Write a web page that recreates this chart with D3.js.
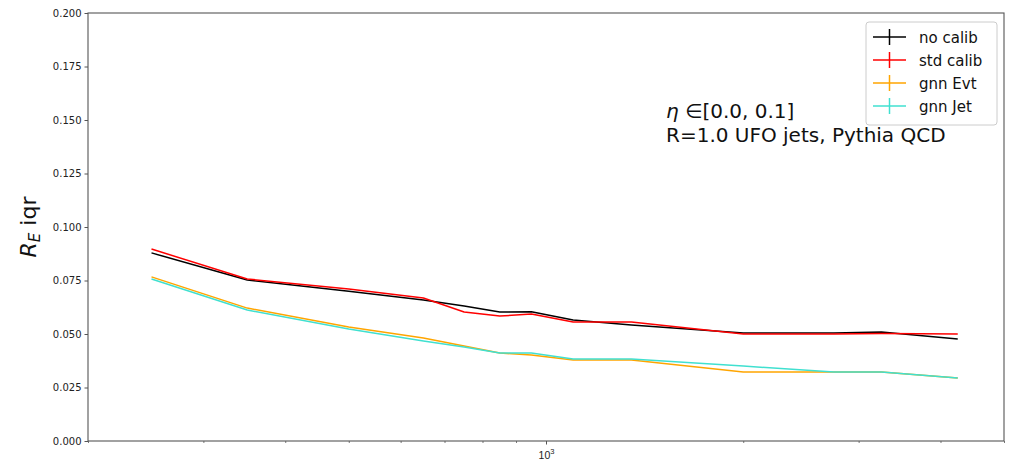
<!DOCTYPE html>
<html>
<head>
<meta charset="utf-8">
<script src="https://cdn.jsdelivr.net/npm/d3@7"></script>
<style>
  html, body { margin: 0; padding: 0; background: #fff; }
  svg { display: block; font-family: "DejaVu Sans", sans-serif; }
</style>
</head>
<body>
<svg id="chart" width="1013" height="462"></svg>
<script>
// Jet pT bin centres (GeV)
const binCenters = [250, 350, 500, 650, 750, 850, 950, 1100, 1350, 2000, 2750, 3250, 4250];

// Energy response IQR per bin
const noCalib  = [0.0879, 0.0752, 0.0700, 0.0659, 0.0631, 0.0603, 0.0604, 0.0565, 0.0542, 0.0505, 0.0505, 0.0509, 0.0477];
const stdCalib = [0.0897, 0.0757, 0.0710, 0.0668, 0.0603, 0.0584, 0.0593, 0.0556, 0.0556, 0.0500, 0.0500, 0.0502, 0.0500];
const gnnEvt   = [0.0767, 0.0621, 0.0533, 0.0481, 0.0444, 0.0411, 0.0402, 0.0379, 0.0379, 0.0322, 0.0322, 0.0322, 0.0294];
const gnnJet   = [0.0757, 0.0612, 0.0523, 0.0467, 0.0439, 0.0411, 0.0411, 0.0383, 0.0383, 0.0350, 0.0322, 0.0322, 0.0294];

const seriesNames  = ["no calib", "std calib", "gnn Evt", "gnn Jet"];
const seriesColors = ["#000000", "#ff0000", "#ffa500", "#40e0d0"];
const seriesValues = [noCalib, stdCalib, gnnEvt, gnnJet];

const yTicks = [0, 0.025, 0.05, 0.075, 0.1, 0.125, 0.15, 0.175, 0.2];
const xMinorTicks = [200, 300, 400, 500, 600, 700, 800, 900, 2000, 3000, 4000, 5000];
const xMajorTicks = [1000];

const plot = { left: 88, top: 13, right: 1004, bottom: 441 };

const svg = d3.select("#chart");

const x = d3.scaleLog().domain([200, 5000]).range([plot.left, plot.right]);
const y = d3.scaleLinear().domain([0, 0.2]).range([plot.bottom, plot.top]);

const axisColor = "#555";

// y axis
const yAxis = svg.append("g")
  .attr("transform", `translate(${plot.left},0)`)
  .call(d3.axisLeft(y).tickValues(yTicks).tickFormat(d3.format(".3f")).tickSize(3.5).tickPadding(3));
yAxis.select(".domain").remove();
yAxis.selectAll("line").attr("stroke", axisColor).attr("stroke-width", 1);
yAxis.selectAll("text").attr("font-size", 10).attr("fill", "#222").attr("font-family", "DejaVu Sans");

// x axis: minor ticks
const xMinor = svg.append("g")
  .attr("transform", `translate(0,${plot.bottom})`)
  .call(d3.axisBottom(x).tickValues(xMinorTicks).tickFormat("").tickSize(2));
xMinor.select(".domain").remove();
xMinor.selectAll("line").attr("stroke", axisColor).attr("stroke-width", 0.8);

// x axis: major tick
const xMajor = svg.append("g")
  .attr("transform", `translate(0,${plot.bottom})`)
  .call(d3.axisBottom(x).tickValues(xMajorTicks).tickFormat("").tickSize(3.5));
xMajor.select(".domain").remove();
xMajor.selectAll("line").attr("stroke", axisColor).attr("stroke-width", 1);
xMajor.selectAll(".tick").each(function(d) {
  const t = d3.select(this).append("text")
    .attr("y", 18)
    .attr("text-anchor", "middle")
    .attr("font-size", 10.5)
    .attr("fill", "#222");
  t.append("tspan").text("10");
  t.append("tspan").attr("dy", -5).attr("font-size", 7.5).text(Math.round(Math.log10(d)));
});

// data lines
const line = d3.line().x((d, i) => x(binCenters[i])).y(d => y(d));
seriesValues.forEach((vals, k) => {
  svg.append("path")
    .datum(vals)
    .attr("fill", "none")
    .attr("stroke", seriesColors[k])
    .attr("stroke-width", 1.5)
    .attr("stroke-linejoin", "round")
    .attr("d", line);
});

// frame
svg.append("rect")
  .attr("x", plot.left).attr("y", plot.top)
  .attr("width", plot.right - plot.left).attr("height", plot.bottom - plot.top)
  .attr("fill", "none").attr("stroke", axisColor).attr("stroke-width", 1.1);

// y label
const yl = svg.append("text")
  .attr("transform", `translate(36,${(plot.top + plot.bottom) / 2}) rotate(-90)`)
  .attr("text-anchor", "middle")
  .attr("font-size", 22)
  .attr("fill", "#111");
yl.append("tspan").attr("font-style", "italic").text("R");
yl.append("tspan").attr("font-style", "italic").attr("font-size", 15).attr("dy", 4).text("E");
yl.append("tspan").attr("dy", -4).text(" iqr");

// annotation
const ann = svg.append("g").attr("fill", "#111").attr("font-size", 20);
const a1 = ann.append("text").attr("x", 666).attr("y", 118);
a1.append("tspan").attr("font-style", "italic").text("η");
a1.append("tspan").text(" ∈[0.0, 0.1]");
ann.append("text").attr("x", 666).attr("y", 142).text("R=1.0 UFO jets, Pythia QCD");

// legend
const lg = svg.append("g").attr("transform", "translate(866,22)");
lg.append("rect")
  .attr("width", 131).attr("height", 103).attr("rx", 3)
  .attr("fill", "#fff").attr("fill-opacity", 0.8)
  .attr("stroke", "#ccc").attr("stroke-width", 1);
seriesNames.forEach((name, k) => {
  const cy = 15 + k * 23;
  const g = lg.append("g").attr("transform", `translate(0,${cy})`);
  g.append("line").attr("x1", 7).attr("x2", 40).attr("y1", 0).attr("y2", 0)
    .attr("stroke", seriesColors[k]).attr("stroke-width", 1.5);
  g.append("line").attr("x1", 23.5).attr("x2", 23.5).attr("y1", -8).attr("y2", 8)
    .attr("stroke", seriesColors[k]).attr("stroke-width", 1.5);
  g.append("text").attr("x", 53).attr("y", 5.5)
    .attr("font-size", 15).attr("fill", "#111").text(name);
});
</script>
</body>
</html>
